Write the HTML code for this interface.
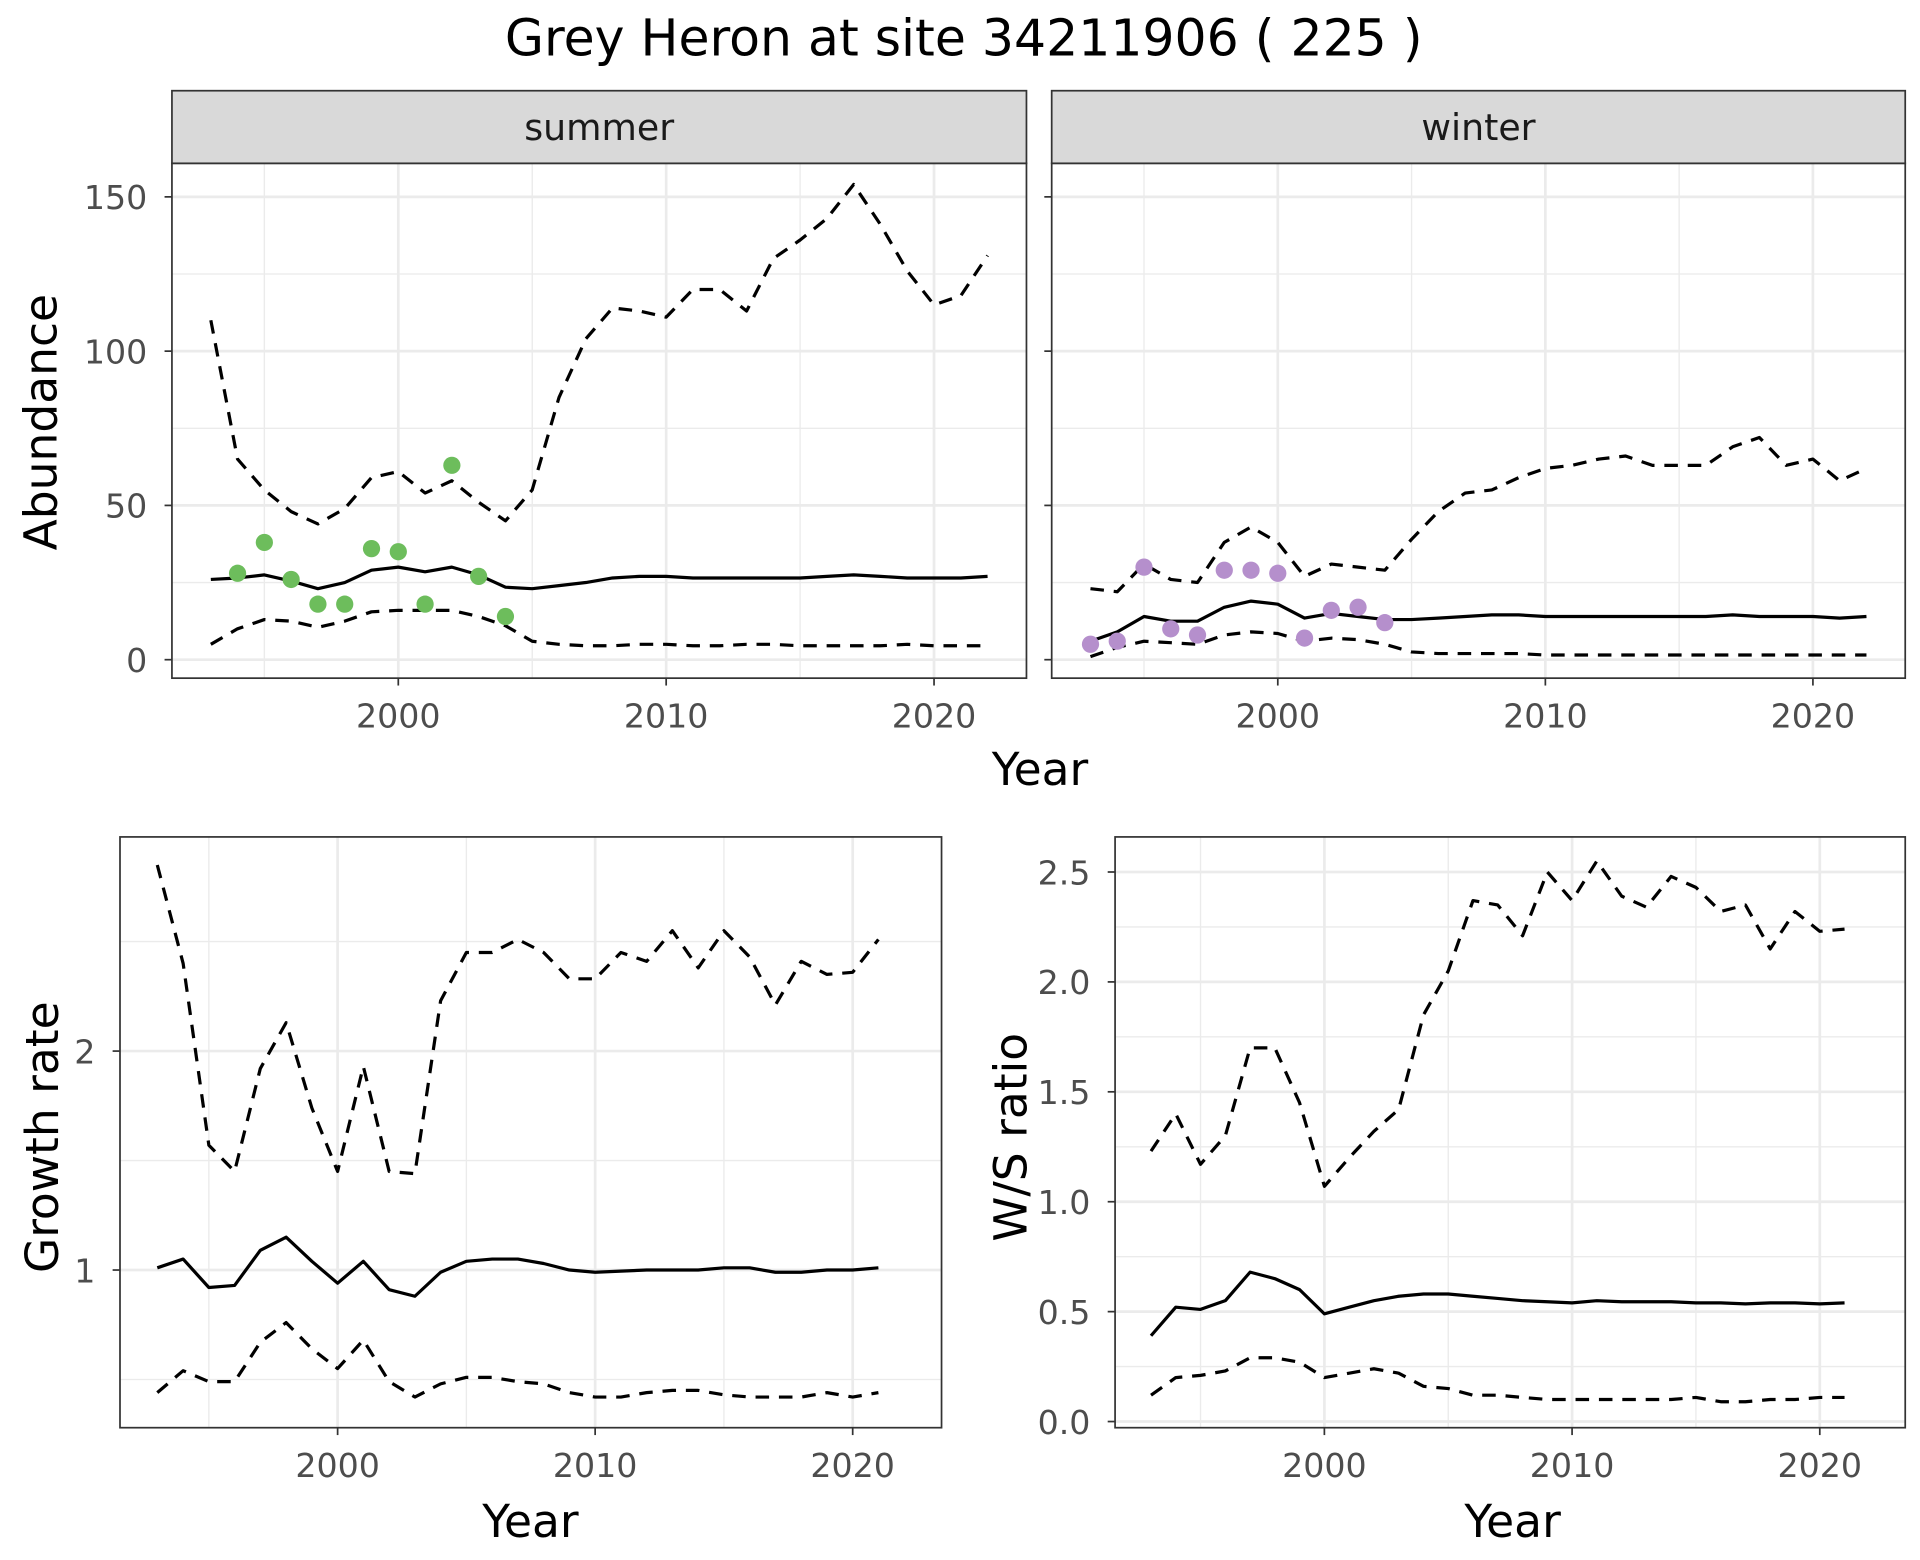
<!DOCTYPE html>
<html><head><meta charset="utf-8"><style>
html,body{margin:0;padding:0;background:#fff}
svg{display:block}
text{font-family:"DejaVu Sans","Liberation Sans",sans-serif}
</style></head><body>
<svg id="chart" width="1920" height="1560" viewBox="0 0 1560 1267.5">
<text x="783" y="45" font-size="41" text-anchor="middle" fill="#000">Grey Heron at site 34211906 ( 225 )</text>
</svg>
<script>
const yearsAbund = [1993,1994,1995,1996,1997,1998,1999,2000,2001,2002,2003,2004,2005,2006,2007,2008,2009,2010,2011,2012,2013,2014,2015,2016,2017,2018,2019,2020,2021,2022];
const summerMean = [26,26.5,27.5,25.5,23,25,29,30,28.5,30,27.5,23.5,23,24,25,26.5,27,27,26.5,26.5,26.5,26.5,26.5,27,27.5,27,26.5,26.5,26.5,27];
const summerUpper = [110,65,55,48,44,49,59,61,54,58,51,45,55,85,104,114,113,111,120,120,113,130,136,143,154,141,126,115,118,131];
const summerLower = [5,10,13,12.5,10.5,12.5,15.5,16,16,16,14,11,6,5,4.5,4.5,5,5,4.5,4.5,5,5,4.5,4.5,4.5,4.5,5,4.5,4.5,4.5];
const summerObsYears = [1994,1995,1996,1997,1998,1999,2000,2001,2002,2003,2004];
const summerObs = [28,38,26,18,18,36,35,18,63,27,14];
const winterMean = [6,9,14,12.5,12.5,17,19,18,13.5,15,14,13,13,13.5,14,14.5,14.5,14,14,14,14,14,14,14,14.5,14,14,14,13.5,14];
const winterUpper = [23,22,31,26,25,38,43,38,27,31,30,29,39,48,54,55,59,62,63,65,66,63,63,63,69,72,63,65,58,62];
const winterLower = [1,4,6,5.5,5,8,9,8.5,6,7,6.5,5,2.5,2,2,2,2,1.5,1.5,1.5,1.5,1.5,1.5,1.5,1.5,1.5,1.5,1.5,1.5,1.5];
const winterObsYears = [1993,1994,1995,1996,1997,1998,1999,2000,2001,2002,2003,2004];
const winterObs = [5,6,30,10,8,29,29,28,7,16,17,12];
const yearsRate = [1993,1994,1995,1996,1997,1998,1999,2000,2001,2002,2003,2004,2005,2006,2007,2008,2009,2010,2011,2012,2013,2014,2015,2016,2017,2018,2019,2020,2021];
const growthMean = [1.01,1.05,0.92,0.93,1.09,1.15,1.04,0.94,1.04,0.91,0.88,0.99,1.04,1.05,1.05,1.03,1.0,0.99,0.995,1.0,1.0,1.0,1.01,1.01,0.99,0.99,1.0,1.0,1.01];
const growthUpper = [2.85,2.4,1.57,1.45,1.92,2.13,1.74,1.45,1.93,1.45,1.44,2.23,2.45,2.45,2.51,2.45,2.33,2.33,2.45,2.41,2.55,2.38,2.55,2.43,2.21,2.41,2.35,2.36,2.51];
const growthLower = [0.44,0.54,0.49,0.49,0.67,0.76,0.64,0.55,0.68,0.49,0.42,0.48,0.51,0.51,0.49,0.48,0.44,0.42,0.42,0.44,0.45,0.45,0.43,0.42,0.42,0.42,0.44,0.42,0.44];
const ratioMean = [0.39,0.52,0.51,0.55,0.68,0.65,0.60,0.49,0.52,0.55,0.57,0.58,0.58,0.57,0.56,0.55,0.545,0.54,0.55,0.545,0.545,0.545,0.54,0.54,0.535,0.54,0.54,0.535,0.54];
const ratioUpper = [1.23,1.40,1.17,1.30,1.70,1.70,1.45,1.07,1.20,1.32,1.42,1.85,2.05,2.37,2.35,2.21,2.50,2.37,2.55,2.39,2.34,2.48,2.43,2.32,2.35,2.15,2.32,2.23,2.24];
const ratioLower = [0.12,0.20,0.21,0.23,0.29,0.29,0.27,0.20,0.22,0.24,0.22,0.16,0.15,0.12,0.12,0.11,0.10,0.10,0.10,0.10,0.10,0.10,0.11,0.09,0.09,0.10,0.10,0.11,0.11];
const xTicks = [2000,2010,2020];
const xMinor = [1995,2005,2015];
const abundTicks = [0,50,100,150];
const abundMinor = [25,75,125];
const growthTicks = [1,2];
const growthMinor = [0.5,1.5,2.5];
const ratioTicks = [0,0.5,1.0,1.5,2.0,2.5];
const ratioMinor = [0.25,0.75,1.25,1.75,2.25];

const svg = document.getElementById('chart');
const NS = 'http://www.w3.org/2000/svg';
function mk(tag, attrs, parent){const e=document.createElementNS(NS,tag);for(const k in attrs)e.setAttribute(k,attrs[k]);(parent||svg).appendChild(e);return e;}
function txt(s, attrs, parent){const e=mk('text',attrs,parent);e.textContent=s;return e;}

function panel(o){
  const g = mk('g',{});
  
  
  const sx = v => o.x0 + (v-o.xmin)/(o.xmax-o.xmin)*(o.x1-o.x0);
  const sy = v => o.y1 - (v-o.ymin)/(o.ymax-o.ymin)*(o.y1-o.y0);
  mk('rect',{x:o.x0,y:o.y0,width:o.x1-o.x0,height:o.y1-o.y0,fill:'#fff'},g);
  o.yMinor.forEach(v=>{const y=sy(v); if(y>o.y0&&y<o.y1) mk('line',{x1:o.x0,x2:o.x1,y1:y,y2:y,stroke:'#ebebeb','stroke-width':1.1},g);});
  o.xMinor.forEach(v=>mk('line',{y1:o.y0,y2:o.y1,x1:sx(v),x2:sx(v),stroke:'#ebebeb','stroke-width':1.1},g));
  o.yTicks.forEach(v=>mk('line',{x1:o.x0,x2:o.x1,y1:sy(v),y2:sy(v),stroke:'#ebebeb','stroke-width':2.2},g));
  o.xTicks.forEach(v=>mk('line',{y1:o.y0,y2:o.y1,x1:sx(v),x2:sx(v),stroke:'#ebebeb','stroke-width':2.2},g));
  o.series.forEach(s=>{
    const d = s.ys.map((v,i)=>(i?'L':'M')+sx(s.xs[i]).toFixed(1)+','+sy(v).toFixed(1)).join('');
    const p = mk('path',{d:d,fill:'none',stroke:'#000','stroke-width':2.6,'stroke-dasharray':s.dash?'11,8':'none','stroke-linejoin':'round'},g);
    
    
  });
  if(o.points){
    o.points.ys.forEach((v,i)=>{
      const c = mk('circle',{cx:sx(o.points.xs[i]),cy:sy(v),r:7,fill:o.points.color},g);
      
      
    });
  }
  mk('rect',{x:o.x0,y:o.y0,width:o.x1-o.x0,height:o.y1-o.y0,fill:'none',stroke:'#333','stroke-width':1.4},g);
  o.xTicks.forEach(v=>{
    mk('line',{x1:sx(v),x2:sx(v),y1:o.y1,y2:o.y1+6,stroke:'#333','stroke-width':1.4},g);
    const t = txt(String(v),{x:sx(v),y:o.y1+40,'font-size':27,'text-anchor':'middle',fill:'#4d4d4d'},g);
    
    
  });
  o.yTicks.forEach(v=>{
    mk('line',{x1:o.x0-6,x2:o.x0,y1:sy(v),y2:sy(v),stroke:'#333','stroke-width':1.4},g);
    if(o.showY!==false){
      const t = txt(o.fmt?o.fmt(v):String(v),{x:o.x0-20,y:sy(v)+10,'font-size':27,'text-anchor':'end',fill:'#4d4d4d'},g);
      
      
    }
  });
  if(o.strip){
    const sg = mk('g',{},g);
    
    
    mk('rect',{x:o.x0,y:o.y0-59,width:o.x1-o.x0,height:59,fill:'#d9d9d9',stroke:'#333','stroke-width':1.4},sg);
    txt(o.strip,{x:(o.x0+o.x1)/2,y:o.y0-19,'font-size':29.5,'text-anchor':'middle',fill:'#1a1a1a'},sg);
  }
}

const XMIN = 1991.55, XMAX = 2023.45;
const topYmin = -(551-536)/2.507, topYmax = (536-132.7)/2.507;
panel({name:'summer-panel',strip:'summer',x0:139.7,x1:834,y0:132.7,y1:551,xmin:XMIN,xmax:XMAX,ymin:topYmin,ymax:topYmax,
  xTicks,xMinor,yTicks:abundTicks,yMinor:abundMinor,
  series:[{xs:yearsAbund,ys:summerUpper,dash:true,name:'summer-upper-ci'},{xs:yearsAbund,ys:summerLower,dash:true,name:'summer-lower-ci'},{xs:yearsAbund,ys:summerMean,name:'summer-mean'}],
  points:{xs:summerObsYears,ys:summerObs,color:'#6dbd5c'}});
panel({name:'winter-panel',strip:'winter',showY:false,x0:854.5,x1:1548,y0:132.7,y1:551,xmin:XMIN,xmax:XMAX,ymin:topYmin,ymax:topYmax,
  xTicks,xMinor,yTicks:abundTicks,yMinor:abundMinor,
  series:[{xs:yearsAbund,ys:winterUpper,dash:true,name:'winter-upper-ci'},{xs:yearsAbund,ys:winterLower,dash:true,name:'winter-lower-ci'},{xs:yearsAbund,ys:winterMean,name:'winter-mean'}],
  points:{xs:winterObsYears,ys:winterObs,color:'#b58fcc'}});
panel({name:'growth-rate-panel',x0:97.5,x1:765,y0:680,y1:1160,xmin:XMIN,xmax:XMAX,ymin:1-(1160-1031.9)/177.9,ymax:1+(1031.9-680)/177.9,
  xTicks,xMinor,yTicks:growthTicks,yMinor:growthMinor,
  series:[{xs:yearsRate,ys:growthUpper,dash:true,name:'growth-upper-ci'},{xs:yearsRate,ys:growthLower,dash:true,name:'growth-lower-ci'},{xs:yearsRate,ys:growthMean,name:'growth-mean'}]});
panel({name:'ws-ratio-panel',x0:906,x1:1548,y0:680,y1:1160,xmin:XMIN,xmax:XMAX,ymin:-5/178.6,ymax:(1155-680)/178.6,
  xTicks,xMinor,yTicks:ratioTicks,yMinor:ratioMinor,fmt:v=>v.toFixed(1),
  series:[{xs:yearsRate,ys:ratioUpper,dash:true,name:'ratio-upper-ci'},{xs:yearsRate,ys:ratioLower,dash:true,name:'ratio-lower-ci'},{xs:yearsRate,ys:ratioMean,name:'ratio-mean'}]});

function title(s,x,y,rot,name){
  const t = txt(s,{x:x,y:y,'font-size':37,'text-anchor':'middle',fill:'#000',transform:rot?`rotate(-90 ${x} ${y})`:''});
  
  
}
title('Year',845,638,false,'top-x-axis-title');
title('Abundance',46,343,true,'abundance-axis-title');
title('Growth rate',47,924,true,'growth-axis-title');
title('W/S ratio',834,924,true,'ratio-axis-title');
title('Year',431,1249,false,'growth-x-axis-title');
title('Year',1229,1249,false,'ratio-x-axis-title');
</script>
</body></html>
